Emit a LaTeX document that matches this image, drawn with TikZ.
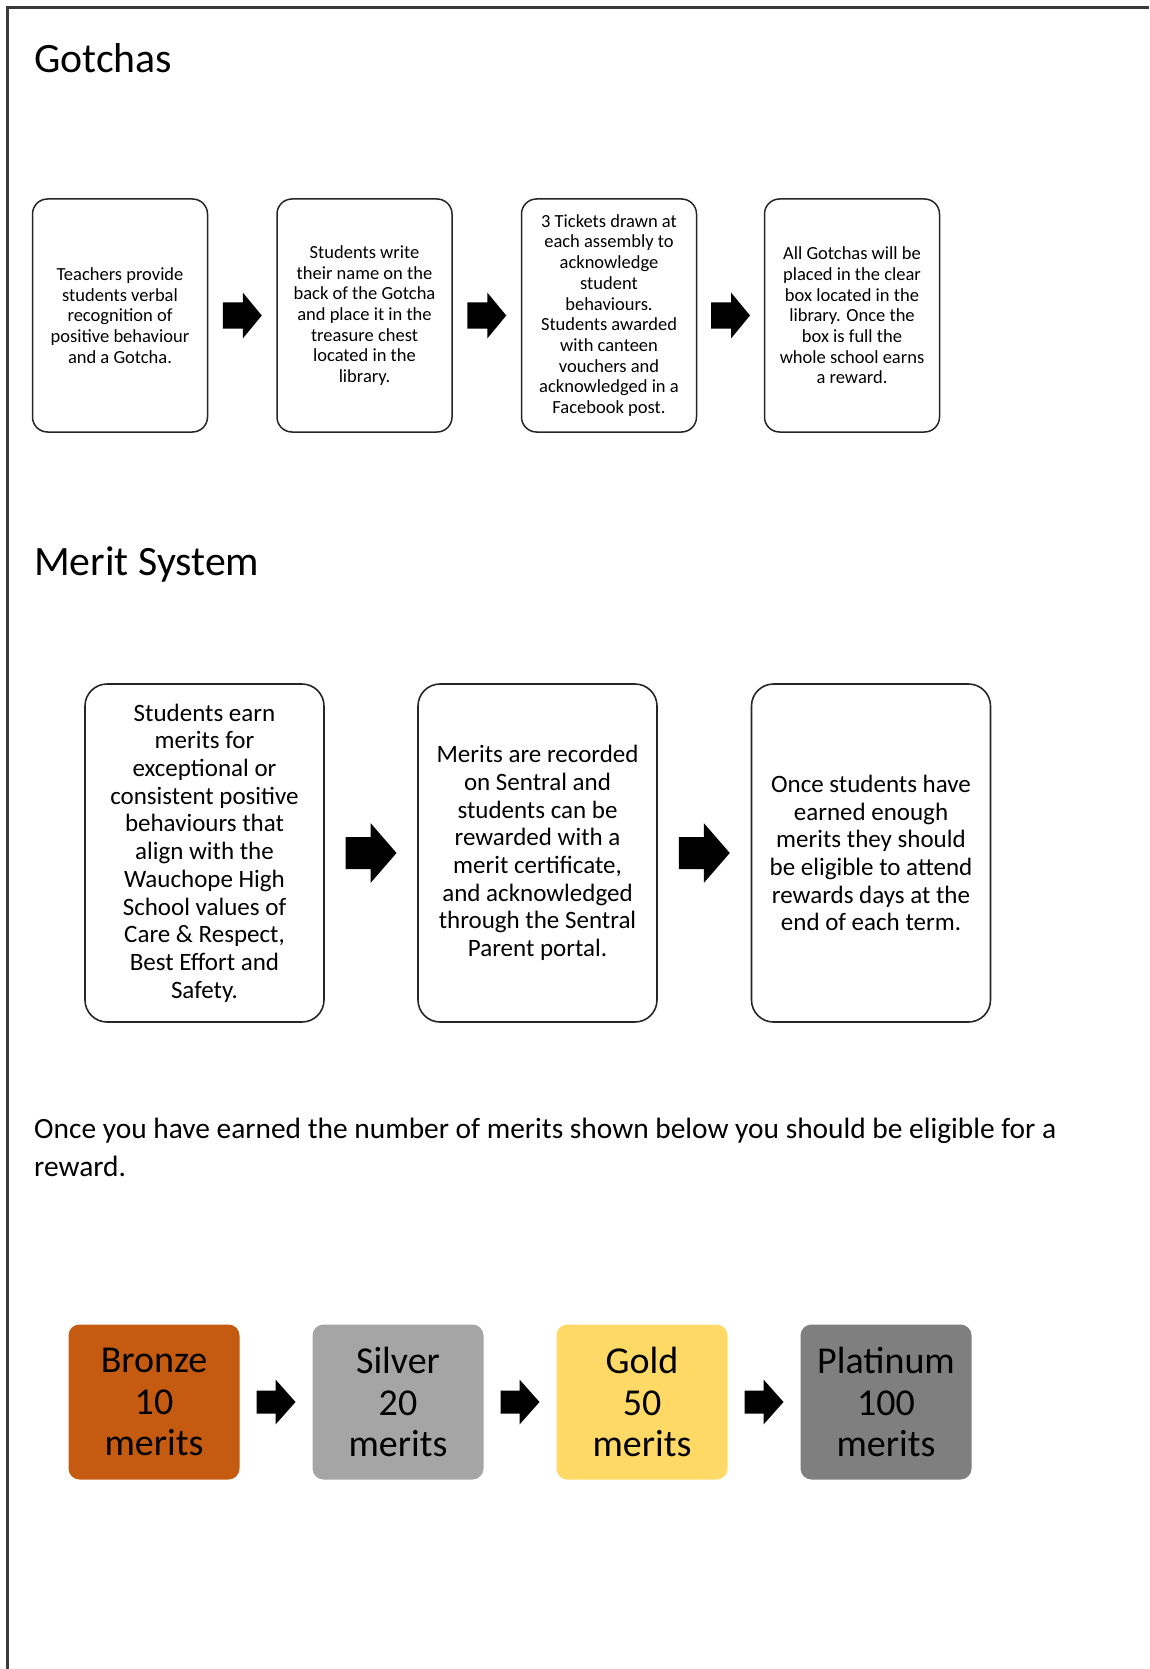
\documentclass[tikz,border=0pt]{standalone}
\usepackage{fontspec}
\setmainfont{Carlito}
\usetikzlibrary{calc}
\definecolor{bronzec}{HTML}{C55A11}
\definecolor{silverc}{HTML}{A5A5A5}
\definecolor{goldc}{HTML}{FFD966}
\definecolor{platc}{HTML}{7F7F7F}
\definecolor{framec}{HTML}{3A3A3A}
% #1 centre, #2 total length, #3 shaft length, #4 head height, #5 shaft height
\newcommand\blockarr[5]{%
  \fill[black] (#1) ++({-#2/2},{-#5/2}) -- ++(#3,0) -- ++(0,{-(#4-#5)/2})
    -- ++({#2-#3},{#4/2}) -- ++({-(#2-#3)},{#4/2}) -- ++(0,{-(#4-#5)/2})
    -- ++({-#3},0) -- cycle;}
\begin{document}
\begin{tikzpicture}[x=1pt,y=-1pt,
  gbox/.style={draw=black!85, line width=1.5pt, rounded corners=15pt,
    minimum width=175pt, minimum height=233pt, align=center, inner sep=0pt,
    font=\fontsize{18.5}{20.7}\selectfont},
  mbox/.style={draw=black!85, line width=1.6pt, rounded corners=22pt,
    minimum width=239pt, minimum height=338pt, align=center, inner sep=0pt,
    font=\fontsize{25}{27.7}\selectfont},
  tbox/.style={rounded corners=11pt, minimum width=171pt, minimum height=155pt,
    align=center, inner sep=0pt, font=\fontsize{38}{41.5}\selectfont},
  titletext/.style={anchor=base west, inner sep=0pt, font=\fontsize{41.8}{50}\selectfont},
  bodytext/.style={anchor=base west, inner sep=0pt, font=\fontsize{29.4}{38}\selectfont}]
\fill[white] (0,0) rectangle (1149,1669);
\useasboundingbox (0,0) rectangle (1149,1669);
\draw[framec, line width=2.5pt] (1149,7.5) -- (7.5,7.5) -- (7.5,1669);

% Gotchas
\node[titletext] (t1) at (34,73) {Gotchas};
\node[gbox] (g1) at (120,315.5) {Teachers provide\\students verbal\\recognition of\\positive behaviour\\and a Gotcha.};
\node[gbox] (g2) at (364.5,315.5) {Students write\\their name on the\\back of the Gotcha\\and place it in the\\treasure chest\\located in the\\library.};
\node[gbox] (g3) at (609,315.5) {3 Tickets drawn at\\each assembly to\\acknowledge\\student\\behaviours.\\Students awarded\\with canteen\\vouchers and\\acknowledged in a\\Facebook post.};
\node[gbox] (g4) at (852,315.5) {All Gotchas will be\\placed in the clear\\box located in the\\library. Once the\\box is full the\\whole school earns\\a reward.};
\coordinate (ga1) at ($(g1.east)!0.5!(g2.west)$);
\coordinate (ga2) at ($(g2.east)!0.5!(g3.west)$);
\coordinate (ga3) at ($(g3.east)!0.5!(g4.west)$);
\blockarr{ga1}{39}{20}{46}{26}
\blockarr{ga2}{39}{20}{46}{26}
\blockarr{ga3}{39}{20}{46}{26}

% Merit system
\node[titletext] (t2) at (34,575) {Merit System};
\node[mbox] (m1) at (204.5,853) {Students earn\\merits for\\exceptional or\\consistent positive\\behaviours that\\align with the\\Wauchope High\\School values of\\Care \& Respect,\\Best Effort and\\Safety.};
\node[mbox] (m2) at (537.5,853) {Merits are recorded\\on Sentral and\\students can be\\rewarded with a\\merit certificate,\\and acknowledged\\through the Sentral\\Parent portal.};
\node[mbox] (m3) at (871,853) {Once students have\\earned enough\\merits they should\\be eligible to attend\\rewards days at the\\end of each term.};
\coordinate (ma1) at ($(m1.east)!0.5!(m2.west)$);
\coordinate (ma2) at ($(m2.east)!0.5!(m3.west)$);
\blockarr{ma1}{51}{25}{60}{32}
\blockarr{ma2}{51}{25}{60}{32}

% sentence
\node[bodytext] (s1) at (34,1138) {Once you have earned the number of merits shown below you should be eligible for a};
\node[bodytext] (s2) at (34,1176) {reward.};

% tiers
\node[tbox, fill=bronzec] (b) at (154,1402) {Bronze\\10\\merits};
\node[tbox, fill=silverc] (s) at (398,1402) {Silver\\20\\merits};
\node[tbox, fill=goldc] (g) at (642,1402) {Gold\\50\\merits};
\node[tbox, fill=platc] (p) at (886,1402) {Platinum\\100\\merits};
\coordinate (ta1) at ($(b.east)!0.5!(s.west)$);
\coordinate (ta2) at ($(s.east)!0.5!(g.west)$);
\coordinate (ta3) at ($(g.east)!0.5!(p.west)$);
\blockarr{ta1}{39}{19}{45}{23}
\blockarr{ta2}{39}{19}{45}{23}
\blockarr{ta3}{39}{19}{45}{23}
\end{tikzpicture}
\end{document}
